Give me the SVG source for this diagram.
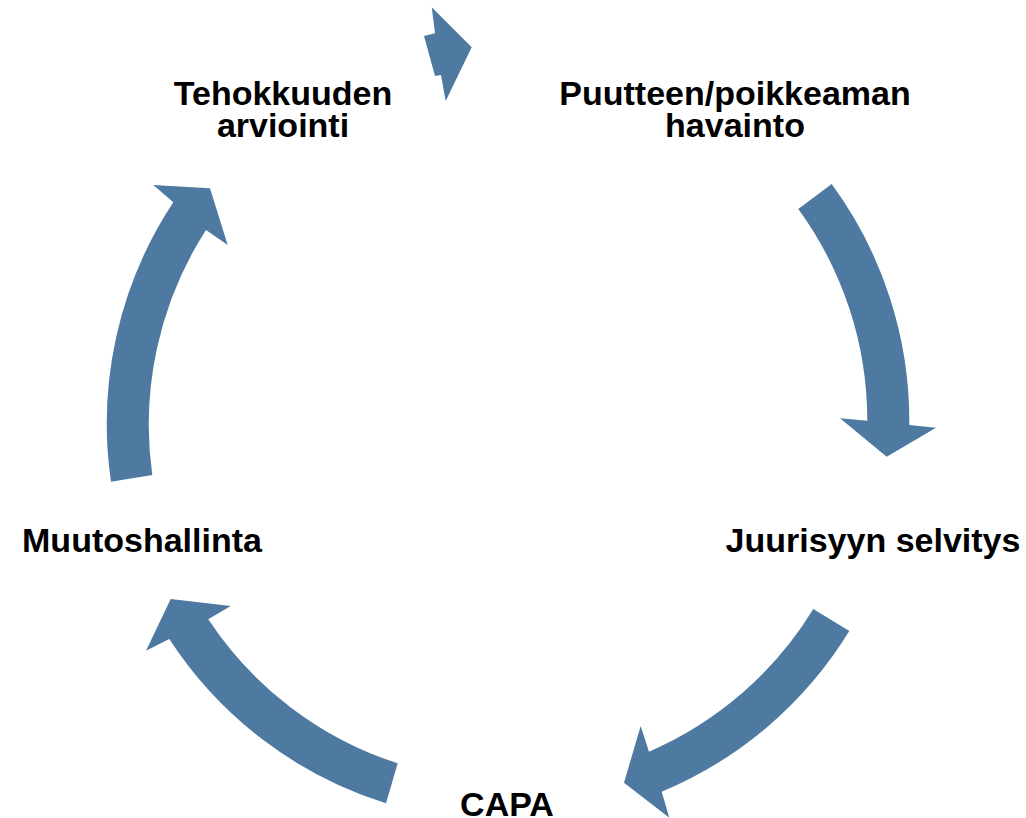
<svg xmlns="http://www.w3.org/2000/svg" width="1026" height="818" viewBox="0 0 1026 818">
<style>
.arrow{fill:#4E7AA2;stroke:none}
.lbl{font-family:"Liberation Sans",Arial,sans-serif;font-weight:bold;font-size:34px;fill:#000;text-anchor:middle}
</style>
<rect width="1026" height="818" fill="#fff"/>
<g id="connectors">
<path class="arrow" d="M 431.7 7.3 L 435 33.3 L 424 36 L 435 76 L 441 75 L 445.7 101 L 471.7 47.3 Z"/>
<path class="arrow" d="M 831.7 184 A 401 401 0 0 1 909.3 425 L 936 427.7 L 886.7 456.7 L 840 418.3 L 867.3 420.7 A 359.5 359.5 0 0 0 798.3 209 Z"/>
<path class="arrow" d="M 849.3 631 A 401 401 0 0 1 661.7 791.7 L 669.3 817.7 L 624 782.7 L 640.7 726 L 649 751.7 A 359.5 359.5 0 0 0 813.3 609 Z"/>
<path class="arrow" d="M 386 803.3 A 401 401 0 0 1 169.3 639 L 146 650.7 L 170.7 599 L 230.7 606 L 208.3 619.3 A 359.5 359.5 0 0 0 397.7 763.3 Z"/>
<path class="arrow" d="M 111 481.7 A 401 401 0 0 1 173.3 202.3 L 153.3 185 L 210 188.3 L 227.7 245 L 206 230 A 359.5 359.5 0 0 0 152.3 475 Z"/>
</g>
<g id="node-puutteen"><text class="lbl" x="735" y="105">Puutteen/poikkeaman</text><text class="lbl" x="735" y="137">havainto</text></g>
<g id="node-juurisyyn"><text class="lbl" x="873" y="552">Juurisyyn selvitys</text></g>
<g id="node-capa"><text class="lbl" x="507" y="816">CAPA</text></g>
<g id="node-muutos"><text class="lbl" x="142" y="552">Muutoshallinta</text></g>
<g id="node-tehokkuuden"><text class="lbl" x="283" y="105">Tehokkuuden</text><text class="lbl" x="283" y="137">arviointi</text></g>
</svg>
